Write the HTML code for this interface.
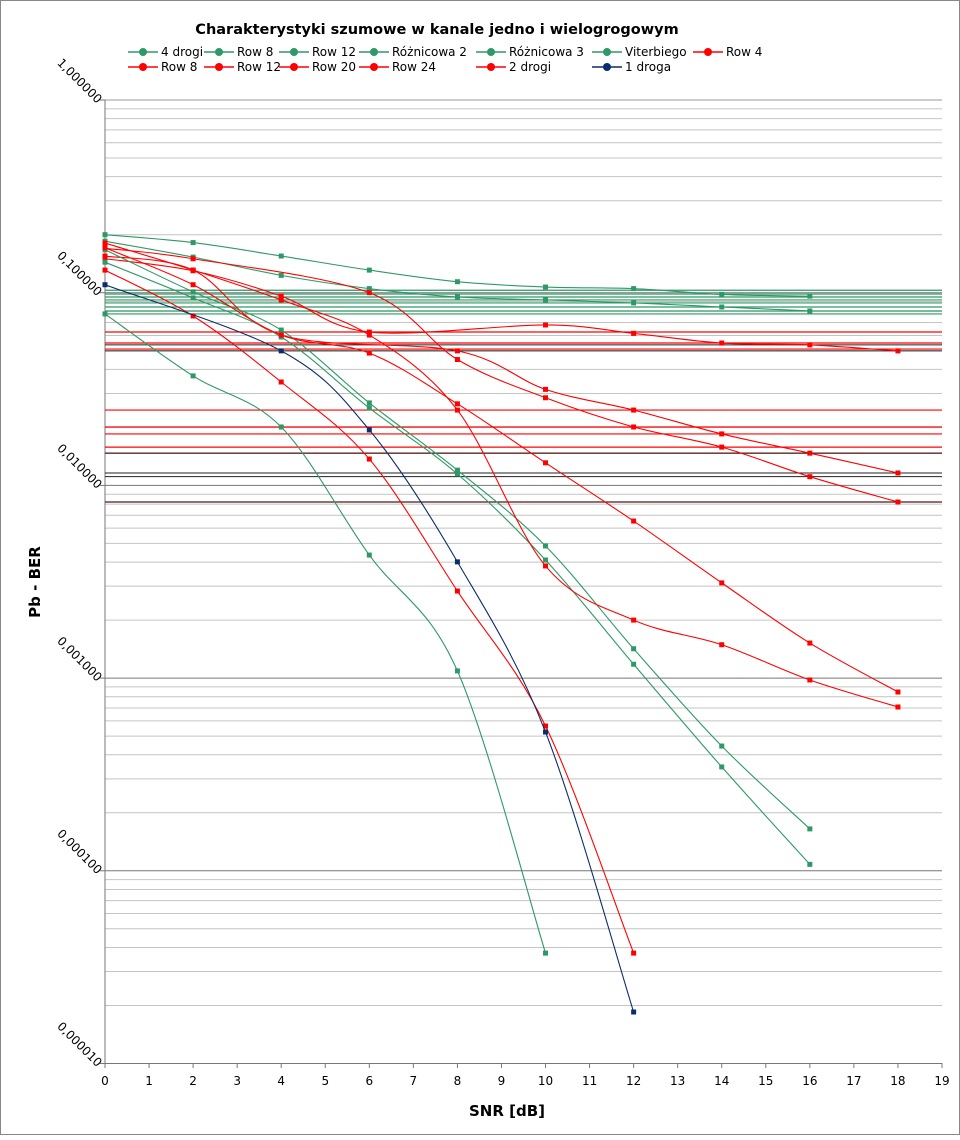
<!DOCTYPE html>
<html><head><meta charset="utf-8"><style>
body{margin:0;background:#fff}
#wrap{position:relative;width:960px;height:1135px;font-family:"Liberation Sans",sans-serif}
svg text{font-family:"DejaVu Sans","Liberation Sans",sans-serif}
</style></head><body>
<div id="wrap">
<svg id="chart" width="960" height="1135">
<rect x="0.5" y="0.5" width="959" height="1134" fill="#fff" stroke="#888"/>
<text x="437" y="34" text-anchor="middle" font-size="14.5" font-weight="bold">Charakterystyki szumowe w kanale jedno i wielogrogowym</text>
<text x="507" y="1116" text-anchor="middle" font-size="15" font-weight="bold">SNR [dB]</text>
<text x="40" y="582" text-anchor="middle" font-size="15" font-weight="bold" transform="rotate(-90 40 582)">Pb - BER</text>
<g id="grid"></g><g id="axes"></g><g id="series"></g><g id="legend"></g>
</svg>
</div>
<script>
const xTicks=[0,1,2,3,4,5,6,7,8,9,10,11,12,13,14,15,16,17,18,19];
const yTickLabels=["1,000000","0,100000","0,010000","0,001000","0,000100","0,000010"];
const yTickValues=[1,0.1,0.01,0.001,0.0001,0.00001];
const strayGreen=[0.103,0.0984,0.095,0.0917,0.0885,0.0843,0.0804,0.0776];
const strayRed=[0.0625,0.0548,0.051,0.0246,0.0201,0.0185,0.0158,0.0147,0.0082];
const strayDark=[0.0536,0.0499,0.0147,0.0116,0.0111,0.0082];
const s1x=[0,4,6,8,10,12], s1y=[0.110,0.0499,0.0194,0.00401,0.000525,0.0000185];
const s4x=[0,2,4,6,8,10], s4y=[0.0776,0.037,0.0201,0.00435,0.00109,0.0000374];
const r4x=[0,2,4,6,8,10,12], r4y=[0.131,0.0757,0.0344,0.0137,0.00283,0.000564,0.0000374];
const gAx=[0,2,4,6,8,10,12,14,16], gAy=[0.144,0.094,0.0589,0.0252,0.01146,0.0041,0.00118,0.000346,0.000108];
const gBx=[0,2,4,6,8,10,12,14,16], gBy=[0.167,0.101,0.064,0.0268,0.012,0.00485,0.00142,0.000444,0.000165];
const rAx=[0,2,4,6,8,10,12,14,16,18], rAy=[0.171,0.11,0.0603,0.0486,0.0265,0.0131,0.00653,0.00312,0.00152,0.000847];
const rBx=[0,2,4,6,8,10,12,14,16,18], rBy=[0.181,0.131,0.0917,0.0603,0.0246,0.00382,0.002,0.00149,0.000978,0.000708];
const gCx=[0,2,4,6,8,10,12,14,16], gCy=[0.2,0.182,0.155,0.131,0.114,0.107,0.105,0.098,0.096];
const gDx=[0,2,4,6,8,10,12,14,16], gDy=[0.185,0.153,0.123,0.105,0.095,0.0917,0.0885,0.0843,0.0804];
const rCx=[0,2,4,6,10,12,14,16,18], rCy=[0.15,0.13,0.096,0.0625,0.068,0.0615,0.0548,0.0536,0.0499];
const rDx=[0,2,4,8,10,12,14,16,18], rDy=[0.155,0.131,0.0603,0.0499,0.0315,0.0246,0.0185,0.0147,0.0116];
const rEx=[0,2,6,8,10,12,14,16,18], rEy=[0.17,0.15,0.1,0.045,0.0285,0.0201,0.0158,0.0111,0.0082];

const NS="http://www.w3.org/2000/svg";
const X0=105,X1=942,Y0=100,DEC=192.7;
function xs(v){return X0+(X1-X0)*v/19;}
function ys(v){return Y0-DEC*Math.log10(v);}
function mk(tag,attrs,parent){const e=document.createElementNS(NS,tag);for(const k in attrs)e.setAttribute(k,attrs[k]);parent.appendChild(e);return e;}
const grid=document.getElementById('grid'),axes=document.getElementById('axes'),ser=document.getElementById('series'),leg=document.getElementById('legend');
for(let d=0;d<5;d++){for(let m=1;m<10;m++){const v=Math.pow(10,-d-1)*m;const y=ys(v);
const l=mk('line',{x1:X0,x2:X1,y1:y,y2:y,stroke:m==1?'#777':'#c4c4c4','stroke-width':1},grid);
}}
mk('line',{x1:X0,x2:X1,y1:ys(1),y2:ys(1),stroke:'#999'},grid);
const ax=mk('line',{x1:X0,x2:X0,y1:Y0,y2:ys(0.00001),stroke:'#777'},axes);

const bx=mk('line',{x1:X0,x2:X1,y1:ys(0.00001),y2:ys(0.00001),stroke:'#777'},axes);

xTicks.forEach(t=>{const x=xs(t);mk('line',{x1:x,x2:x,y1:1063,y2:1068,stroke:'#777'},axes);
const tx=mk('text',{x:x,y:1085,'text-anchor':'middle','font-size':12},axes);tx.textContent=t;
});
yTickValues.forEach((v,i)=>{const y=ys(v);mk('line',{x1:X0-5,x2:X0,y1:y,y2:y,stroke:'#777'},axes);
const tx=mk('text',{x:X0-8,y:y+4,'text-anchor':'end','font-size':12,transform:`rotate(45 ${X0-8} ${y+4})`},axes);
tx.textContent=yTickLabels[i];});
function stray(arr,col,name){arr.forEach(v=>{const y=ys(v);const l=mk('line',{x1:X0,x2:X1,y1:y,y2:y,stroke:col,'stroke-width':col=='#222'?1:1.2},ser);
});}
stray(strayGreen,'#2e9966','stray-green-line');stray(strayRed,'#f00','stray-red-line');stray(strayDark,'#222','stray-dark-line');
function series(xa,ya,col,name){const g=mk('g',{},ser);
let pts=[];xa.forEach((x,i)=>pts.push([xs(x),ys(ya[i])]));
let d='M'+pts[0].join(',');
for(let i=1;i<pts.length;i++){const p0=pts[Math.max(0,i-2)],p1=pts[i-1],p2=pts[i],p3=pts[Math.min(pts.length-1,i+1)];
const c1=[p1[0]+(p2[0]-p0[0])/6,p1[1]+(p2[1]-p0[1])/6],c2=[p2[0]-(p3[0]-p1[0])/6,p2[1]-(p3[1]-p1[1])/6];
d+=` C${c1} ${c2} ${p2}`;}
mk('path',{d:d,fill:'none',stroke:col,'stroke-width':1.1},g);
pts.forEach(p=>{const r=mk('rect',{x:p[0]-2.5,y:p[1]-2.5,width:5,height:5,fill:col},g);
});}
const G='#2e9966',R='#f00',N='#0b2d6b';
series(gCx,gCy,G,'series-viterbiego');series(gDx,gDy,G,'series-roznicowa-3');
series(rCx,rCy,R,'series-row-20');series(rDx,rDy,R,'series-row-24');series(rEx,rEy,R,'series-row-12');
series(gAx,gAy,G,'series-row-12-green');series(gBx,gBy,G,'series-row-8-green');
series(rAx,rAy,R,'series-row-4');series(rBx,rBy,R,'series-row-8');
series(s4x,s4y,G,'series-4-drogi');series(r4x,r4y,R,'series-2-drogi');series(s1x,s1y,N,'series-1-droga');
const legNames=["4 drogi","Row 8","Row 12","Różnicowa 2","Różnicowa 3","Viterbiego","Row 4","Row 8","Row 12","Row 20","Row 24","2 drogi","1 droga"];
const legCols=[G,G,G,G,G,G,R,R,R,R,R,R,N];
const legX=[128,204,279,359,476,592,693,128,204,279,359,476,592];
legNames.forEach((n,i)=>{const y=i<7?52:67;const g=mk('g',{},leg);

mk('line',{x1:legX[i],x2:legX[i]+30,y1:y,y2:y,stroke:legCols[i],'stroke-width':1.5},g);
mk('circle',{cx:legX[i]+15,cy:y,r:4,fill:legCols[i]},g);
const t=mk('text',{x:legX[i]+33,y:y+4,'font-size':12},g);t.textContent=n;});
</script>
</body></html>
